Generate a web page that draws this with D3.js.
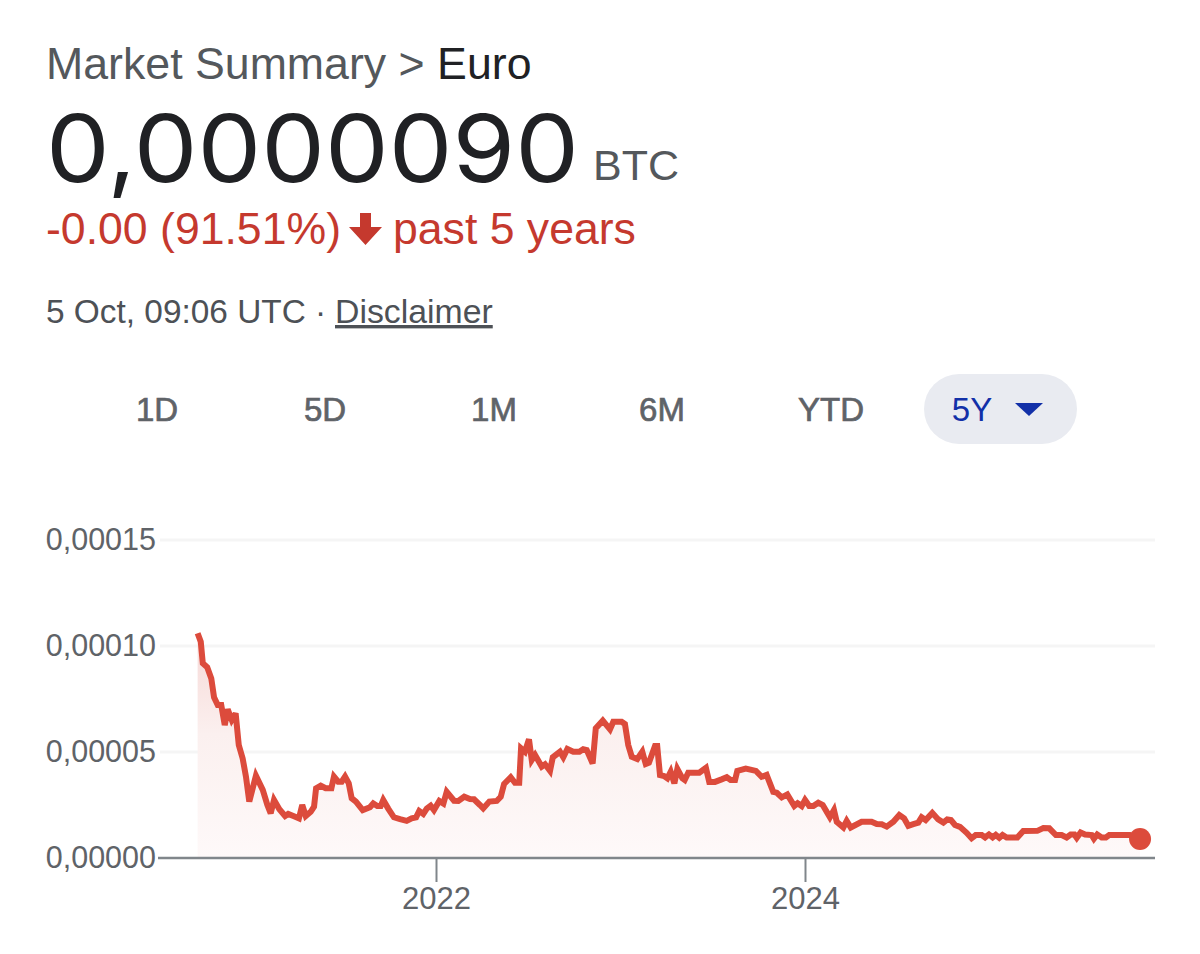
<!DOCTYPE html>
<html><head><meta charset="utf-8">
<script src="https://cdnjs.cloudflare.com/ajax/libs/d3/7.8.5/d3.min.js"></script>
<style>html,body{margin:0;background:#fff}svg{display:block}text{font-family:"Liberation Sans",Arial,sans-serif}</style>
</head><body><svg id="c" width="1200" height="954"></svg>
<script>
// Decimal years
const years=[2020.708,2020.725,2020.736,2020.760,2020.782,2020.797,2020.817,2020.836,2020.855,2020.871,2020.893,2020.914,2020.931,2020.952,2020.970,2020.988,
2021.024,2021.061,2021.086,2021.104,2021.122,2021.151,2021.182,2021.199,2021.227,2021.257,2021.275,2021.294,2021.321,2021.339,2021.350,2021.375,2021.402,2021.433,2021.447,2021.470,2021.489,2021.507,2021.527,2021.543,2021.566,2021.603,2021.642,2021.660,2021.682,2021.700,2021.714,2021.741,2021.772,2021.805,2021.841,2021.868,2021.892,2021.909,2021.931,2021.950,2021.971,2021.989,
2022.018,2022.040,2022.058,2022.098,2022.121,2022.153,2022.184,2022.206,2022.238,2022.256,2022.289,2022.329,2022.351,2022.369,2022.405,2022.428,2022.451,2022.461,2022.482,2022.504,2022.519,2022.537,2022.573,2022.591,2022.618,2022.633,2022.672,2022.690,2022.712,2022.744,2022.777,2022.798,2022.817,2022.849,2022.866,2022.904,2022.943,2022.961,
2023.006,2023.024,2023.042,2023.061,2023.091,2023.118,2023.137,2023.154,2023.187,2023.199,2023.214,2023.236,2023.254,2023.272,2023.292,2023.308,2023.335,2023.348,2023.367,2023.427,2023.463,2023.481,2023.512,2023.548,2023.576,2023.597,2023.621,2023.633,2023.679,2023.734,2023.765,2023.792,2023.828,2023.847,2023.874,2023.904,2023.942,2023.960,2023.982,
2024.000,2024.023,2024.045,2024.072,2024.096,2024.135,2024.157,2024.172,2024.208,2024.226,2024.248,2024.307,2024.361,2024.389,2024.416,2024.443,2024.479,2024.511,2024.537,2024.560,2024.587,2024.614,2024.632,2024.654,2024.690,2024.722,2024.750,2024.771,2024.791,2024.813,2024.840,2024.876,2024.903,2024.925,2024.958,2024.976,2024.997,
2025.017,2025.034,2025.053,2025.071,2025.093,2025.151,2025.183,2025.259,2025.292,2025.324,2025.360,2025.391,2025.418,2025.440,2025.460,2025.473,2025.494,2025.518,2025.554,2025.566,2025.584,2025.608,2025.631,2025.649,2025.761,2025.816];
// Price in units of 0,00001 BTC
const prices=[10.6,10.2,9.18,9.0,8.47,7.58,7.22,7.22,6.27,7.01,6.51,6.82,5.33,4.70,3.84,2.66,
3.88,3.21,2.50,2.11,2.74,2.30,1.98,2.08,1.98,1.87,2.50,1.98,2.18,2.42,3.29,3.41,3.29,3.29,3.84,3.60,3.60,3.84,3.52,2.82,2.66,2.26,2.39,2.57,2.45,2.45,2.74,2.33,1.92,1.83,1.75,1.87,1.92,2.22,2.08,2.33,2.47,2.26,
2.69,2.57,3.12,2.70,2.69,2.89,2.78,2.77,2.50,2.34,2.66,2.69,2.89,3.49,3.81,3.55,3.55,5.17,5.01,5.60,4.62,4.86,4.31,4.42,4.11,4.75,5.01,4.75,5.14,5.01,5.01,5.13,5.09,4.46,6.12,6.48,6.07,6.43,
6.43,6.32,5.33,4.78,4.67,5.01,4.43,4.49,5.28,5.28,3.91,3.87,3.76,4.07,3.52,4.20,3.76,3.68,4.02,4.02,4.25,3.59,3.59,3.71,3.81,3.68,3.68,4.11,4.22,4.11,3.83,3.92,3.12,3.08,2.86,3.00,2.45,2.58,2.45,
2.74,2.45,2.45,2.61,2.50,1.92,2.26,1.71,1.44,1.75,1.44,1.71,1.71,1.60,1.59,1.48,1.71,2.03,1.87,1.52,1.60,1.67,1.92,1.79,2.13,1.82,1.67,1.82,1.79,1.56,1.47,1.19,0.93,1.08,1.08,0.97,1.11,
0.97,1.09,0.95,1.09,0.97,0.97,1.27,1.28,1.41,1.40,1.08,1.08,0.97,1.11,1.11,0.95,1.20,1.11,1.08,0.91,1.11,0.97,0.97,1.08,1.08,0.90];
const yTickValues=[0,5,10,15];
const yTickLabels=["0,00000","0,00005","0,00010","0,00015"];
const xTickValues=[2022,2024];
const rangeLabels=["1D","5D","1M","6M","YTD"];
const rangeCenters=[157,325,494,662,831];

const svg=d3.select("#c");
const gray="#5f6368",dark="#202124",red="#c5392e",line="#dc4b3c",blue="#1230a8";
const x=d3.scaleLinear().domain([2022,2024]).range([436,805]);
const y=d3.scaleLinear().domain([0,15]).range([858,540]);

// Header
const h=svg.append("text").attr("x",46).attr("y",79).attr("font-size",44.7).attr("fill","#54585c");
h.append("tspan").text("Market Summary > ");
h.append("tspan").attr("fill",dark).text("Euro");
svg.append("text").attr("x",46).attr("y",182).attr("font-size",94).attr("fill",dark)
  .style("font-family","Inter").attr("font-weight",400).attr("textLength",533).attr("lengthAdjust","spacingAndGlyphs").text("0,0000090");
svg.append("text").attr("x",593).attr("y",180).attr("font-size",43).attr("fill","#54585c").text("BTC");
svg.append("text").attr("x",46).attr("y",244).attr("font-size",44.6).attr("fill",red).text("-0.00 (91.51%)");
svg.append("path").attr("d","M360 213h11v14h11l-16.500 18l-16.500-18h11z").attr("fill",red);
svg.append("text").attr("x",393).attr("y",244).attr("font-size",44.6).attr("fill",red).text("past 5 years");
svg.append("text").attr("x",46).attr("y",323).attr("font-size",33.4).attr("fill","#4d5156").text("5 Oct, 09:06 UTC ·");
svg.append("text").attr("x",335).attr("y",323).attr("font-size",33.8).attr("fill","#4d5156").attr("text-decoration","underline").text("Disclaimer");

// Range selector
svg.append("rect").attr("x",924).attr("y",374).attr("width",153).attr("height",70).attr("rx",35).attr("fill","#e9ebf1");
svg.selectAll("text.r").data(rangeLabels).join("text").attr("class","r")
  .attr("x",(d,i)=>rangeCenters[i]).attr("y",421).attr("text-anchor","middle").attr("font-size",33)
  .attr("fill",gray).attr("stroke",gray).attr("stroke-width",0.7).text(d=>d);
svg.append("text").attr("x",972).attr("y",421).attr("text-anchor","middle").attr("font-size",33).attr("fill",blue).text("5Y");
svg.append("path").attr("d","M1015 403h28l-14 13z").attr("fill",blue);

// Chart
const defs=svg.append("defs");
const g=defs.append("linearGradient").attr("id","fade").attr("x1",0).attr("x2",0).attr("y1",0).attr("y2",1);
g.append("stop").attr("offset","0%").attr("stop-color","#f6d8d6");
g.append("stop").attr("offset","45%").attr("stop-color","#fbf0ef");
g.append("stop").attr("offset","100%").attr("stop-color","#fef9f9");

svg.append("g").selectAll("line").data(yTickValues.slice(1)).join("line")
  .attr("x1",160).attr("x2",1155).attr("y1",d=>y(d)).attr("y2",d=>y(d))
  .attr("stroke","#f5f5f5").attr("stroke-width",3);

const pts=years.map((t,i)=>[t,prices[i]]);
svg.append("path").datum(pts).attr("fill","url(#fade)")
  .attr("d",d3.area().x(d=>x(d[0])).y0(y(0)).y1(d=>y(d[1])));
svg.append("path").datum(pts).attr("fill","none").attr("stroke",line).attr("stroke-width",6)
  .attr("stroke-linejoin","miter").attr("stroke-miterlimit",3)
  .attr("d",d3.line().x(d=>x(d[0])).y(d=>y(d[1])));
svg.append("circle").attr("cx",x(years[years.length-1])).attr("cy",y(prices[prices.length-1])).attr("r",11).attr("fill",line);

// Axes
const xAxis=svg.append("g").attr("transform",`translate(0,${y(0)})`)
  .call(d3.axisBottom(x).tickValues(xTickValues).tickFormat(d3.format("d")).tickSize(24).tickPadding(10));
xAxis.select(".domain").remove();
xAxis.selectAll("line").attr("stroke","#80868b").attr("stroke-width",2);
xAxis.selectAll("text").attr("font-size",31).attr("fill",gray).style("font-family",'"Liberation Sans"').attr("dy",0).attr("y",51);
svg.append("line").attr("x1",158).attr("x2",1155).attr("y1",y(0)).attr("y2",y(0)).attr("stroke","#80868b").attr("stroke-width",2.500);
const yAxis=svg.append("g").attr("transform","translate(156,0)")
  .call(d3.axisLeft(y).tickValues(yTickValues).tickFormat((d,i)=>yTickLabels[i]).tickSize(0).tickPadding(0));
yAxis.select(".domain").remove();
yAxis.selectAll("text").attr("font-size",30.5).attr("fill",gray).style("font-family",'"Liberation Sans"');
</script></body></html>
